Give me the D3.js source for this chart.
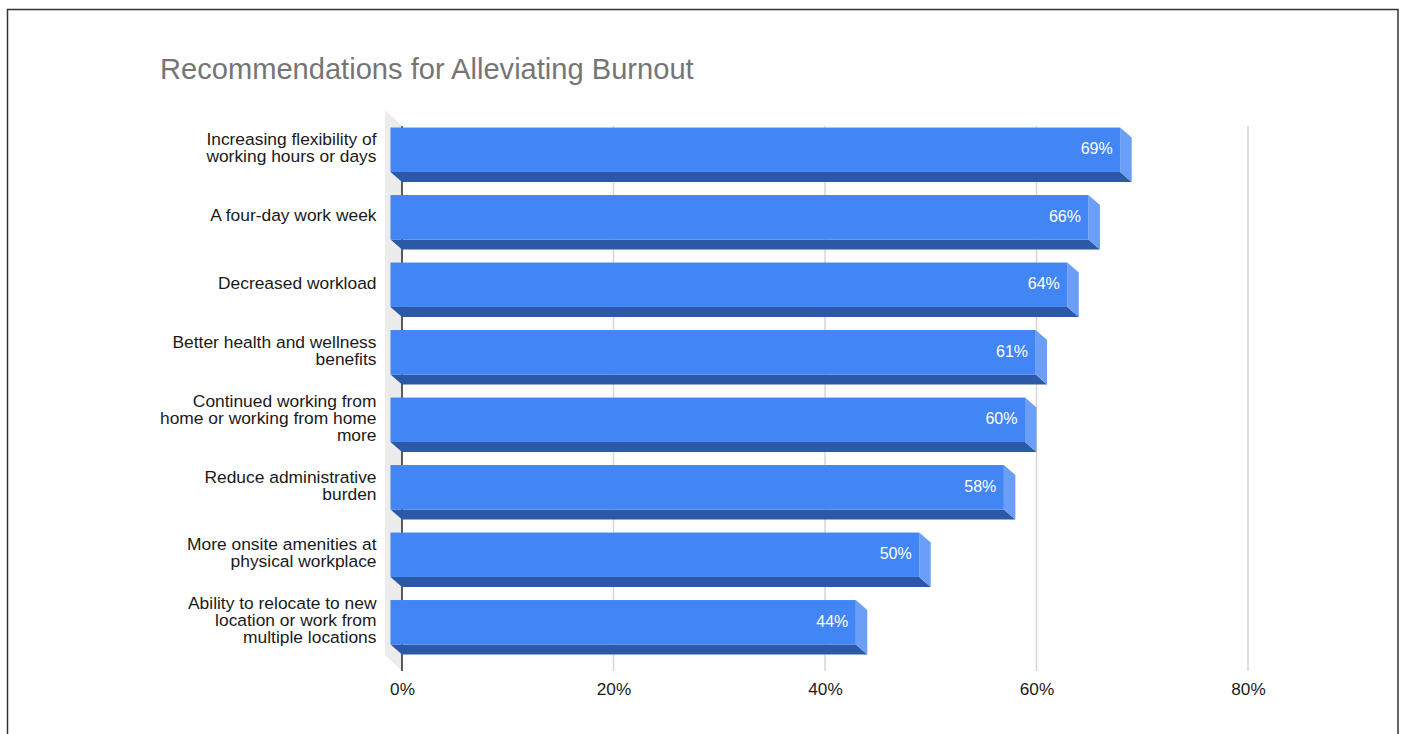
<!DOCTYPE html>
<html>
<head>
<meta charset="utf-8">
<script src="https://cdn.jsdelivr.net/npm/d3@7"></script>
<style>
  html, body { margin: 0; padding: 0; background: #ffffff; }
  svg { display: block; }
</style>
</head>
<body>
<svg id="chart" width="1403" height="734"></svg>
<script>
// ---- Data ----
const title = "Recommendations for Alleviating Burnout";
const categories = [
  "Increasing flexibility of\nworking hours or days",
  "A four-day work week",
  "Decreased workload",
  "Better health and wellness\nbenefits",
  "Continued working from\nhome or working from home\nmore",
  "Reduce administrative\nburden",
  "More onsite amenities at\nphysical workplace",
  "Ability to relocate to new\nlocation or work from\nmultiple locations"
];
const values = [69, 66, 64, 61, 60, 58, 50, 44];
const tickValues = [0, 20, 40, 60, 80];
const tickLabels = ["0%", "20%", "40%", "60%", "80%"];

// ---- Layout ----
const W = 1403, H = 734;
const DX = 11.5, DY = 10;           // 3D depth offset (front -> back)
const font = "'Liberation Sans', Arial, Helvetica, sans-serif";
const colFront = "#4285f4", colBottom = "#2c58a8", colSide = "#6a9ef7";

const svg = d3.select("#chart");

// border
svg.append("rect")
  .attr("x", 7.5).attr("y", 9.5).attr("width", 1390.5).attr("height", 760)
  .attr("fill", "none").attr("stroke", "#333").attr("stroke-width", 1.5);

// title
svg.append("text")
  .attr("x", 160).attr("y", 79)
  .attr("font-family", font).attr("font-size", 29.1)
  .attr("fill", "#757575")
  .text(title);

// scales: x in back plane
const x = d3.scaleLinear().domain([0, 80]).range([402, 1248]);
// y in front plane
const y = d3.scaleBand().domain(d3.range(categories.length))
  .range([116, 656]).paddingInner(0.342).paddingOuter(0.171);

const gridTop = 126, gridBottom = 671;

// left wall
svg.append("path")
  .attr("d", `M385,110 L${x(0)},${gridTop} L${x(0)},${gridBottom} L385,655 Z`)
  .attr("fill", "#ececec");

// gridlines
svg.append("g").selectAll("line")
  .data(tickValues.filter(d => d !== 0))
  .join("line")
  .attr("x1", d => x(d)).attr("x2", d => x(d))
  .attr("y1", gridTop).attr("y2", gridBottom)
  .attr("stroke", "#d6d6d6").attr("stroke-width", 1.5);

// zero axis line
svg.append("line")
  .attr("x1", x(0)).attr("x2", x(0))
  .attr("y1", gridTop).attr("y2", gridBottom)
  .attr("stroke", "#333").attr("stroke-width", 1.6);

// x-axis tick labels via d3 axis
const axisG = svg.append("g").attr("transform", `translate(0,${gridBottom})`)
  .call(d3.axisBottom(x).tickValues(tickValues)
    .tickFormat((d, i) => tickLabels[i]).tickSize(0).tickPadding(12));
axisG.select(".domain").remove();
axisG.selectAll("text")
  .attr("font-family", font).attr("font-size", 17.2).attr("fill", "#1a1a1a");

// bars
const bars = svg.append("g").selectAll("g")
  .data(values.map((v, i) => ({ v, i })))
  .join("g");

bars.each(function(d) {
  const g = d3.select(this);
  const x0 = x(0) - DX, x1 = x(d.v) - DX;
  const yt = y(d.i), yb = y(d.i) + y.bandwidth();
  // bottom face
  g.append("path")
    .attr("d", `M${x0},${yb} L${x1},${yb} L${x1 + DX},${yb + DY} L${x0 + DX},${yb + DY} Z`)
    .attr("fill", colBottom);
  // side face
  g.append("path")
    .attr("d", `M${x1},${yt} L${x1 + DX},${yt + DY} L${x1 + DX},${yb + DY} L${x1},${yb} Z`)
    .attr("fill", colSide);
  // front face
  g.append("rect")
    .attr("x", x0).attr("y", yt)
    .attr("width", x1 - x0).attr("height", yb - yt)
    .attr("fill", colFront);
  // value label
  g.append("text")
    .attr("x", x1 - 7.5).attr("y", (yt + yb) / 2 + 4.5)
    .attr("text-anchor", "end")
    .attr("font-family", font).attr("font-size", 16)
    .attr("fill", "#ffffff")
    .text(d.v + "%");
});

// category labels
const lineH = 17;
svg.append("g").selectAll("text")
  .data(categories.map((c, i) => ({ lines: c.split("\n"), i })))
  .join("text")
  .attr("text-anchor", "end")
  .attr("font-family", font).attr("font-size", 17.4).attr("fill", "#1a1a1a")
  .each(function(d) {
    const cy = y(d.i) + y.bandwidth() / 2 - 2;
    const first = cy - (d.lines.length - 1) * lineH / 2 + 6;
    d3.select(this).selectAll("tspan")
      .data(d.lines)
      .join("tspan")
      .attr("x", 376.5)
      .attr("y", (l, k) => first + k * lineH)
      .text(l => l);
  });
</script>
</body>
</html>
